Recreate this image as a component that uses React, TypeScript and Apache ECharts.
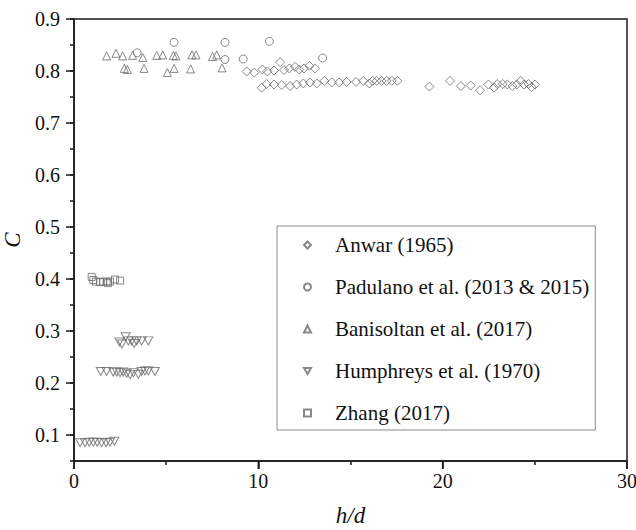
import React, { useEffect, useRef } from "react";
import * as echarts from "echarts";

const seriesNames = [
  "Anwar (1965)",
  "Padulano et al. (2013 & 2015)",
  "Banisoltan et al. (2017)",
  "Humphreys et al. (1970)",
  "Zhang (2017)",
];

const anwarX = [9.37, 9.78, 10.22, 10.49, 10.85, 11.18, 11.39, 11.68, 11.99, 12.22, 12.48, 12.77, 13.07,
  10.18, 10.45, 10.85, 11.27, 11.72, 12.08, 12.44, 12.8, 13.17, 13.58, 13.98, 14.39, 14.79, 15.3, 15.69, 16.02, 16.2, 16.42, 16.69, 16.96, 17.24, 17.54,
  19.28, 20.4, 20.99, 21.52, 22.03, 22.48, 22.79, 22.96, 23.26, 23.51, 23.78, 24.02, 24.23, 24.41, 24.65, 24.83, 25.01];
const anwarC = [0.799, 0.797, 0.803, 0.799, 0.801, 0.817, 0.802, 0.805, 0.808, 0.803, 0.805, 0.81, 0.805,
  0.768, 0.775, 0.774, 0.773, 0.771, 0.774, 0.776, 0.778, 0.776, 0.781, 0.778, 0.778, 0.779, 0.779, 0.781, 0.776, 0.781, 0.781, 0.781, 0.781, 0.781, 0.781,
  0.77, 0.781, 0.771, 0.772, 0.763, 0.774, 0.768, 0.775, 0.775, 0.774, 0.771, 0.774, 0.781, 0.774, 0.775, 0.769, 0.774];

const padulanoX = [3.43, 5.43, 8.19, 8.19, 9.18, 10.6, 13.49];
const padulanoC = [0.835, 0.855, 0.855, 0.822, 0.823, 0.857, 0.825];

const banisoltanX = [1.77, 2.28, 2.64, 2.73, 2.89, 3.18, 3.73, 3.8, 4.49, 4.81, 5.06, 5.39, 5.43, 5.53, 6.33, 6.4, 6.62, 7.52, 7.74, 8.03];
const banisoltanC = [0.829, 0.834, 0.829, 0.805, 0.803, 0.83, 0.826, 0.805, 0.83, 0.831, 0.797, 0.83, 0.805, 0.829, 0.804, 0.831, 0.831, 0.828, 0.831, 0.806];

const humphreysX = [2.46, 2.6, 2.8, 2.95, 3.13, 3.26, 3.4, 3.67, 4.03,
  1.45, 1.77, 2.13, 2.32, 2.5, 2.67, 2.86, 3.04, 3.22, 3.49, 3.67, 3.85, 4.03, 4.39,
  0.33, 0.6, 0.83, 1.05, 1.26, 1.5, 1.74, 1.95, 2.19];
const humphreysC = [0.279, 0.275, 0.289, 0.281, 0.281, 0.276, 0.281, 0.281, 0.281,
  0.222, 0.222, 0.221, 0.221, 0.22, 0.221, 0.219, 0.216, 0.22, 0.217, 0.222, 0.223, 0.223, 0.222,
  0.085, 0.085, 0.086, 0.086, 0.086, 0.085, 0.085, 0.086, 0.088];

const zhangX = [0.96, 1.05, 1.19, 1.41, 1.59, 1.77, 1.84, 1.95, 2.22, 2.5];
const zhangC = [0.404, 0.398, 0.395, 0.394, 0.395, 0.395, 0.392, 0.395, 0.399, 0.397];

const xMajorTicks = [0, 10, 20, 30];
const yMajorTicks = [0.1, 0.2, 0.3, 0.4, 0.5, 0.6, 0.7, 0.8, 0.9];

const pairs = (xs: number[], ys: number[]) => xs.map((x, i) => [x, ys[i]]);

const FONT = "'Liberation Serif', 'Times New Roman', serif";
const AXIS_COLOR = "#1a1a1a";
const MARK_COLOR = "#6a6a6a";
const INV_TRIANGLE = "path://M0,0L10,0L5,8.66Z";
const MAJOR_LEN = 8;

export default function App() {
  const ref = useRef<HTMLDivElement>(null);
  useEffect(() => {
    if (!ref.current) return;
    const chart = echarts.init(ref.current, undefined, { renderer: "svg" });
    const mk = (name: string, data: number[][], symbol: string, size: number | number[]) => ({
      name,
      type: "scatter",
      data,
      symbol,
      symbolSize: size,
      itemStyle: { color: "rgba(255,255,255,0)", borderColor: MARK_COLOR, borderWidth: 1 },
      emphasis: { disabled: true },
    });
    const tickLine = { color: AXIS_COLOR, width: 1.5 };
    chart.setOption({
      animation: false,
      backgroundColor: "#ffffff",
      textStyle: { fontFamily: FONT, color: "#111" },
      grid: {
        left: 74,
        right: 9,
        top: 19,
        bottom: 69,
        containLabel: false,
        outerBoundsMode: "none",
        show: true,
        borderColor: AXIS_COLOR,
        borderWidth: 1.5,
        backgroundColor: "transparent",
      },
      xAxis: {
        type: "value",
        min: 0,
        max: 30,
        interval: 10,
        name: "h/d",
        nameLocation: "middle",
        nameGap: 43,
        nameTextStyle: { fontFamily: FONT, fontStyle: "italic", fontSize: 23, color: "#111" },
        axisLine: { show: true, onZero: false, lineStyle: { color: AXIS_COLOR, width: 1.5 } },
        axisTick: { show: true, length: MAJOR_LEN, lineStyle: tickLine },
        minorTick: { show: true, splitNumber: 2, length: 4, lineStyle: tickLine },
        axisLabel: { fontFamily: FONT, fontSize: 20, color: "#111", margin: 10 },
        splitLine: { show: false },
        minorSplitLine: { show: false },
      },
      yAxis: {
        type: "value",
        min: 0.05,
        max: 0.9,
        interval: 0.05,
        name: "C",
        nameLocation: "middle",
        nameGap: 44,
        nameTextStyle: { fontFamily: FONT, fontStyle: "italic", fontSize: 23, color: "#111" },
        axisLine: { show: true, onZero: false, lineStyle: { color: AXIS_COLOR, width: 1.5 } },
        axisTick: { show: true, length: 4, lineStyle: tickLine },
        axisLabel: {
          fontFamily: FONT,
          fontSize: 20,
          color: "#111",
          margin: 14,
          showMinLabel: true,
          showMaxLabel: true,
          interval: 0,
          formatter: (v: number) => {
            const r = Math.round(v * 100);
            return r % 10 === 0 ? (r / 100).toFixed(1) : "";
          },
        },
        splitLine: { show: false },
      },
      legend: {
        show: true,
        orient: "vertical",
        left: 277,
        top: 226,
        padding: [8, 6, 6, 26],
        itemWidth: 7,
        itemHeight: 7,
        itemGap: 20,
        borderColor: "#8a8a8a",
        borderWidth: 1,
        backgroundColor: "#ffffff",
        selectedMode: false,
        textStyle: { fontFamily: FONT, fontSize: 21, color: "#111", lineHeight: 22, padding: [0, 0, 0, 19] },
        data: seriesNames,
      },
      series: [
        mk(seriesNames[0], pairs(anwarX, anwarC), "diamond", 9),
        mk(seriesNames[1], pairs(padulanoX, padulanoC), "circle", 8),
        mk(seriesNames[2], pairs(banisoltanX, banisoltanC), "triangle", 8),
        mk(seriesNames[3], pairs(humphreysX, humphreysC), INV_TRIANGLE, [9, 8]),
        mk(seriesNames[4], pairs(zhangX, zhangC), "rect", 7),
      ],
    });

    // Major tick marks placed through the chart's own scales
    const x0 = chart.convertToPixel({ xAxisIndex: 0 }, 0) as number;
    const y0 = chart.convertToPixel({ yAxisIndex: 0 }, 0.05) as number;
    const tickStyle = { stroke: AXIS_COLOR, lineWidth: 1.5 };
    const ticks: any[] = [];
    xMajorTicks.forEach((v) => {
      const px = chart.convertToPixel({ xAxisIndex: 0 }, v) as number;
      ticks.push({ type: "line", z: 100, silent: true, shape: { x1: px, y1: y0, x2: px, y2: y0 + MAJOR_LEN }, style: tickStyle });
    });
    yMajorTicks.forEach((v) => {
      const py = chart.convertToPixel({ yAxisIndex: 0 }, v) as number;
      ticks.push({ type: "line", z: 100, silent: true, shape: { x1: x0 - MAJOR_LEN, y1: py, x2: x0, y2: py }, style: tickStyle });
    });
    chart.setOption({ graphic: ticks });
    return () => chart.dispose();
  }, []);
  return (
    <div
      ref={ref}
      style={{ position: "fixed", left: 0, top: 0, width: 636, height: 530, background: "#fff" }}
    />
  );
}
